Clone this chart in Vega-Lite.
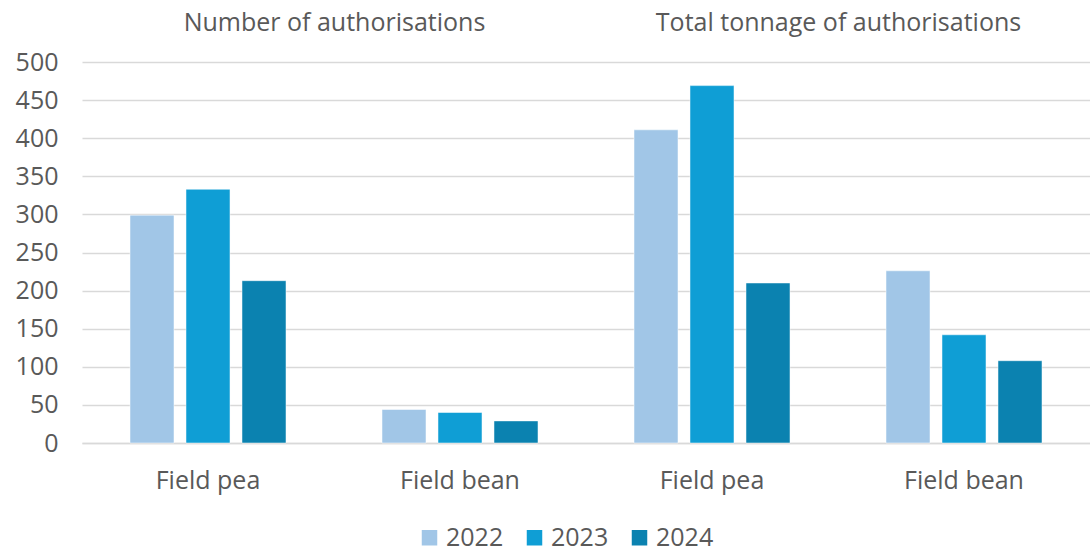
{
  "$schema": "https://vega.github.io/schema/vega-lite/v6.json",
  "width": 1008,
  "height": 381,
  "autosize": {"type": "none"},
  "padding": {"left": 82, "top": 62, "right": 0, "bottom": 109},
  "background": "white",
  "config": {
    "view": {"stroke": null},
    "font": "Open Sans",
    "axis": {"labelFont": "Open Sans", "labelColor": "#595959", "labelFontSize": 25, "labelLimit": 0}
  },
  "data": {
    "values": [
      {"measure": "Number of authorisations", "key": "A|Field pea", "crop": "Field pea", "year": "2022", "value": 299},
      {"measure": "Number of authorisations", "key": "A|Field pea", "crop": "Field pea", "year": "2023", "value": 333},
      {"measure": "Number of authorisations", "key": "A|Field pea", "crop": "Field pea", "year": "2024", "value": 213},
      {"measure": "Number of authorisations", "key": "B|Field bean", "crop": "Field bean", "year": "2022", "value": 44},
      {"measure": "Number of authorisations", "key": "B|Field bean", "crop": "Field bean", "year": "2023", "value": 40},
      {"measure": "Number of authorisations", "key": "B|Field bean", "crop": "Field bean", "year": "2024", "value": 29},
      {"measure": "Total tonnage of authorisations", "key": "C|Field pea", "crop": "Field pea", "year": "2022", "value": 411},
      {"measure": "Total tonnage of authorisations", "key": "C|Field pea", "crop": "Field pea", "year": "2023", "value": 469},
      {"measure": "Total tonnage of authorisations", "key": "C|Field pea", "crop": "Field pea", "year": "2024", "value": 210},
      {"measure": "Total tonnage of authorisations", "key": "D|Field bean", "crop": "Field bean", "year": "2022", "value": 226},
      {"measure": "Total tonnage of authorisations", "key": "D|Field bean", "crop": "Field bean", "year": "2023", "value": 142},
      {"measure": "Total tonnage of authorisations", "key": "D|Field bean", "crop": "Field bean", "year": "2024", "value": 108}
    ]
  },
  "layer": [
    {
      "mark": {"type": "bar", "stroke": "white", "strokeWidth": 0.5},
      "encoding": {
        "x": {
          "field": "key", "type": "nominal", "sort": null,
          "scale": {"paddingInner": 0, "paddingOuter": 0},
          "axis": {
            "title": null, "labelAngle": 0, "ticks": false, "domain": true,
            "domainColor": "#d9d9d9", "domainWidth": 1.5, "grid": false,
            "labelPadding": 25, "labelExpr": "split(datum.value, '|')[1]"
          }
        },
        "xOffset": {
          "field": "year", "type": "nominal",
          "scale": {"paddingInner": 0.214, "paddingOuter": 0.857}
        },
        "y": {
          "field": "value", "type": "quantitative",
          "scale": {"domain": [0, 500], "nice": false},
          "axis": {
            "title": null, "values": [0, 50, 100, 150, 200, 250, 300, 350, 400, 450, 500],
            "domain": false, "ticks": false, "labelPadding": 24,
            "gridColor": "#d9d9d9", "gridWidth": 1.5
          }
        },
        "color": {
          "field": "year", "type": "nominal",
          "scale": {"domain": ["2022", "2023", "2024"], "range": ["#a1c6e7", "#0f9ed5", "#0b82b0"]},
          "legend": {
            "title": null, "orient": "none", "direction": "horizontal",
            "legendX": 335, "legendY": 463,
            "symbolType": "square", "symbolSize": 240, "symbolStrokeWidth": 0,
            "labelFontSize": 25, "labelColor": "#595959", "labelFont": "Open Sans",
            "labelOffset": 4, "columnPadding": 18
          }
        }
      }
    },
    {
      "mark": {"type": "text", "opacity": 0},
      "encoding": {
        "x": {
          "field": "measure", "type": "nominal", "sort": null,
          "scale": {"paddingInner": 0, "paddingOuter": 0},
          "axis": {
            "orient": "top", "title": null, "labelAngle": 0, "ticks": false,
            "domain": false, "grid": false, "labelPadding": 27
          }
        },
        "text": {"value": ""}
      }
    }
  ],
  "resolve": {"scale": {"x": "independent"}, "axis": {"x": "independent"}}
}
